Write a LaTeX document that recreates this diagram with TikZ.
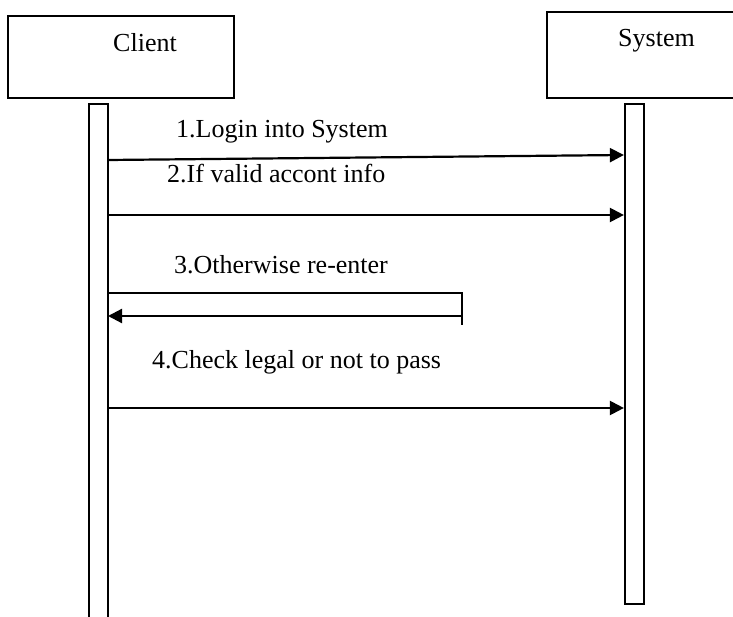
\documentclass[tikz,border=0pt]{standalone}
\usepackage{fontspec}
\setmainfont{Liberation Serif}
\usetikzlibrary{arrows.meta}
\begin{document}
\begin{tikzpicture}[x=1pt,y=-1pt,
  line/.style={line width=2.2pt},
  msg/.style={line, -{Triangle[length=14pt,width=14pt]}},
  box/.style={draw, line width=2.2pt, inner sep=0pt},
  lbl/.style={anchor=base west, inner sep=0pt, font=\fontsize{26}{30}\selectfont}]
\useasboundingbox (0,0) rectangle (733,617);
% actor boxes
\node[box, minimum width=226pt, minimum height=82pt] (clientbox) at (121,57) {};
\node[lbl] (clienttxt) at (113,52) {Client};
\draw[line] (736,12) coordinate (sysTR) -- (547,12) -- (547,98) -- (736,98) coordinate (sysBR);
\node[lbl] (systxt) at (618,47) {System};
% lifelines
\draw[line] (89,620) -- (89,104) -- (108,104) -- (108,620);
\coordinate (cl) at (108,360);
\node[box, minimum width=19pt, minimum height=500pt] (sysl) at (634.5,354) {};
% messages
\node[lbl] (m1) at (176,138) {1.Login into System};
\draw[msg] (cl |- 0,160) -- (sysl.west |- 0,155);
\node[lbl] (m2) at (167,183) {2.If valid accont info};
\draw[msg] (cl |- 0,215) -- (sysl.west |- 0,215);
\node[lbl] (m3) at (174,274) {3.Otherwise re-enter};
\coordinate (r1) at (462,293);
\coordinate (r2) at (462,325);
\draw[line] (cl |- r1) -- (r1) -- (r2);
\coordinate (r3) at (462,316);
\draw[msg] (r3) -- (cl |- r3);
\node[lbl] (m4) at (152,368) {4.Check legal or not to pass};
\draw[msg] (cl |- 0,408) -- (sysl.west |- 0,408);
\end{tikzpicture}
\end{document}
